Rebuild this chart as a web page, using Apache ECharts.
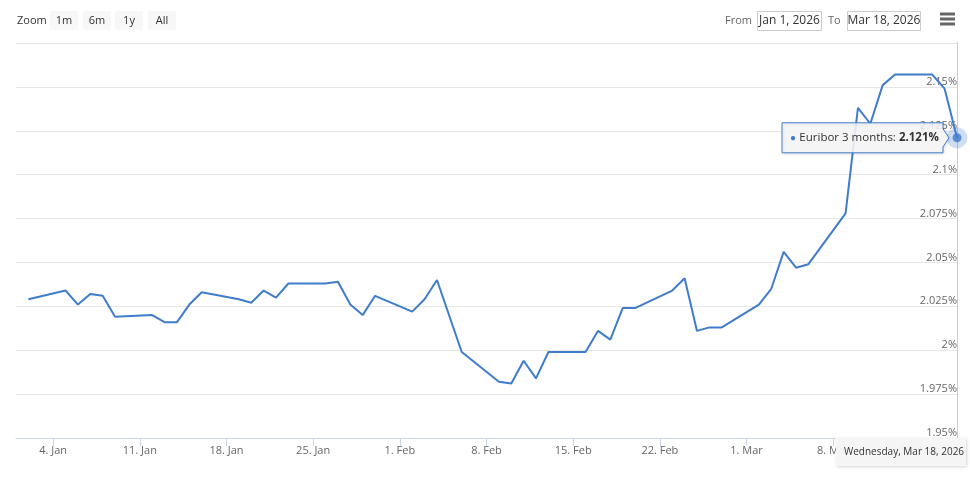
<!DOCTYPE html>
<html>
<head>
<meta charset="utf-8">
<script src="https://cdn.jsdelivr.net/npm/echarts@6/dist/echarts.min.js"></script>
<style>
html,body{margin:0;padding:0;background:#fff;}
#chart{width:970px;height:478px;}
</style>
</head>
<body>
<div id="chart"></div>
<script>
// ---- data ----
const seriesName = 'Euribor 3 months';
const dates = [
  '2026-01-02','2026-01-05','2026-01-06','2026-01-07','2026-01-08','2026-01-09',
  '2026-01-12','2026-01-13','2026-01-14','2026-01-15','2026-01-16',
  '2026-01-19','2026-01-20','2026-01-21','2026-01-22','2026-01-23',
  '2026-01-26','2026-01-27','2026-01-28','2026-01-29','2026-01-30',
  '2026-02-02','2026-02-03','2026-02-04','2026-02-06',
  '2026-02-09','2026-02-10','2026-02-11','2026-02-12','2026-02-13',
  '2026-02-16','2026-02-17','2026-02-18','2026-02-19','2026-02-20',
  '2026-02-23','2026-02-24','2026-02-25','2026-02-26','2026-02-27',
  '2026-03-02','2026-03-03','2026-03-04','2026-03-05','2026-03-06',
  '2026-03-09','2026-03-10','2026-03-11','2026-03-12','2026-03-13',
  '2026-03-16','2026-03-17','2026-03-18'
];
const values = [
  2.029,2.034,2.026,2.032,2.031,2.019,
  2.020,2.016,2.016,2.026,2.033,
  2.029,2.027,2.034,2.030,2.038,
  2.038,2.039,2.026,2.020,2.031,
  2.022,2.029,2.040,1.999,
  1.982,1.981,1.994,1.984,1.999,
  1.999,2.011,2.006,2.024,2.024,
  2.034,2.041,2.011,2.013,2.013,
  2.026,2.035,2.056,2.047,2.049,
  2.078,2.138,2.129,2.151,2.157,
  2.157,2.149,2.121
];
const xTickDates = ['2026-01-04','2026-01-11','2026-01-18','2026-01-25','2026-02-01','2026-02-08','2026-02-15','2026-02-22','2026-03-01','2026-03-08','2026-03-15'];
const rangeButtons = ['1m','6m','1y','All'];
const fromLabel = 'Jan 1, 2026';
const toLabel = 'Mar 18, 2026';
const xMinDate = '2026-01-01';
const xMaxDate = '2026-03-18';
const yMin = 1.95, yMax = 2.175, yStep = 0.025, yLabelMax = 2.15;

// ---- helpers ----
const MONTHS = ['Jan','Feb','Mar','Apr','May','Jun','Jul','Aug','Sep','Oct','Nov','Dec'];
const DAYS = ['Sunday','Monday','Tuesday','Wednesday','Thursday','Friday','Saturday'];
function ts(s){ const p = s.split('-').map(Number); return Date.UTC(p[0], p[1]-1, p[2]); }
function fmtPct(v){ return (+v.toFixed(3)) + '%'; }

const color = '#3f7ccc';
const FONT = '"Open Sans", sans-serif';
const lineData = dates.map((d,i)=>[ts(d), values[i]]);
const last = lineData[lineData.length-1];
const xTicks = xTickDates.map(ts);

const chart = echarts.init(document.getElementById('chart'), null, {renderer:'canvas'});
chart.setOption({
  animation:false,
  textStyle:{fontFamily:FONT},
  grid:{left:16, right:13, top:43, bottom:40, containLabel:false},
  xAxis:{
    type:'value', min:ts(xMinDate), max:ts(xMaxDate), scale:true,
    axisLine:{show:true, lineStyle:{color:'#ccd6eb', width:1}},
    axisTick:{show:true, length:8, lineStyle:{color:'#ccd6eb'}, customValues:xTicks},
    axisLabel:{show:true, customValues:xTicks, color:'#666', fontSize:11, fontFamily:FONT, margin:7,
      formatter:(v)=>{ const d=new Date(v); return d.getUTCDate()+'. '+MONTHS[d.getUTCMonth()]; }},
    splitLine:{show:false}
  },
  yAxis:{
    type:'value', position:'right', min:yMin, max:yMax, interval:yStep,
    axisLine:{show:false}, axisTick:{show:false},
    splitLine:{show:true, lineStyle:{color:'#e6e6e6', width:1}},
    axisLabel:{inside:true, margin:0, color:'#666', fontSize:11, fontFamily:FONT, verticalAlign:'bottom', lineHeight:10,
      formatter:(v)=>{ return v <= yLabelMax + 1e-6 ? fmtPct(v) : ''; }}
  },
  series:[
    {type:'line', name:seriesName, data:lineData, showSymbol:false, symbol:'none',
      lineStyle:{color:color, width:2}, itemStyle:{color:color}, z:3},
    {type:'scatter', name:seriesName, data:[last], symbolSize:21, clip:false,
      itemStyle:{color:color, opacity:0.25}, z:4, silent:true},
    {type:'scatter', name:seriesName, data:[last], symbolSize:9, clip:false,
      itemStyle:{color:color}, z:5, silent:true}
  ]
});

// ---- overlay: range selector, crosshair, tooltip ----
const p = chart.convertToPixel({xAxisIndex:0, yAxisIndex:0}, last);
const plotTop = chart.convertToPixel({yAxisIndex:0}, yMax);
const plotBottom = chart.convertToPixel({yAxisIndex:0}, yMin);
const d = new Date(last[0]);
const headerText = DAYS[d.getUTCDay()]+', '+MONTHS[d.getUTCMonth()]+' '+d.getUTCDate()+', '+d.getUTCFullYear();

const g = [];
g.push({type:'text', x:17, y:20.5, style:{text:'Zoom', fill:'#333', font:'11px '+FONT, verticalAlign:'middle'}});
const btnX = [50, 83, 115, 148];
rangeButtons.forEach((b,i)=>{
  g.push({type:'rect', shape:{x:btnX[i], y:11, width:28, height:19, r:2}, style:{fill:'#f7f7f7'}});
  g.push({type:'text', x:btnX[i]+14, y:20.5, style:{text:b, fill:'#333', font:'11px '+FONT, align:'center', verticalAlign:'middle'}});
});
g.push({type:'text', x:725, y:20.5, style:{text:'From', fill:'#666', font:'11px '+FONT, verticalAlign:'middle'}});
g.push({type:'rect', shape:{x:757.5, y:11.5, width:64, height:19}, style:{fill:'#fff', stroke:'#cccccc', lineWidth:1}});
g.push({type:'text', x:789.5, y:21, style:{text:fromLabel, fill:'#333', font:'12px '+FONT, align:'center', verticalAlign:'middle'}});
g.push({type:'text', x:828, y:20.5, style:{text:'To', fill:'#666', font:'11px '+FONT, verticalAlign:'middle'}});
g.push({type:'rect', shape:{x:847.5, y:11.5, width:73, height:19}, style:{fill:'#fff', stroke:'#cccccc', lineWidth:1}});
g.push({type:'text', x:884, y:21, style:{text:toLabel, fill:'#333', font:'12px '+FONT, align:'center', verticalAlign:'middle'}});
[14,19,24].forEach(y=>g.push({type:'rect', shape:{x:940, y:y-1.5, width:15, height:3}, style:{fill:'#666'}}));

g.push({type:'line', z:1, shape:{x1:Math.round(p[0])+0.5, y1:plotTop-1, x2:Math.round(p[0])+0.5, y2:plotBottom}, style:{stroke:'#cccccc', lineWidth:1}});
const hbRight = Math.min(p[0]+9, 966), hbW = 130;
g.push({type:'rect', z:20, shape:{x:hbRight-hbW, y:plotBottom, width:hbW, height:28},
  style:{fill:'rgba(247,247,247,0.95)', shadowBlur:3, shadowColor:'rgba(0,0,0,0.18)', shadowOffsetX:1, shadowOffsetY:1}});
g.push({type:'text', z:21, x:hbRight-hbW+8, y:plotBottom+14, style:{text:headerText, fill:'#333', font:'10px '+FONT, verticalAlign:'middle'}});

const tr = p[0]-14, tl = tr-161, tt = p[1]-15, tb = p[1]+15, tip = p[0]-8;
g.push({type:'polygon', z:20, shape:{points:[[tl,tt],[tr,tt],[tr,p[1]-9],[tip,p[1]],[tr,p[1]+9],[tr,tb],[tl,tb]]},
  style:{fill:'rgba(247,247,247,0.88)', stroke:color, lineWidth:1, shadowBlur:3, shadowColor:'rgba(0,0,0,0.12)', shadowOffsetX:1, shadowOffsetY:1}});
g.push({type:'text', z:21, x:tl+8, y:p[1], style:{
  text:'{dot|●} {n|'+seriesName+': }{b|'+fmtPct(last[1])+'}',
  verticalAlign:'middle',
  rich:{dot:{fill:color, font:'10px '+FONT}, n:{fill:'#333', font:'11.5px '+FONT}, b:{fill:'#333', font:'bold 11.5px '+FONT}}
}});

chart.setOption({graphic:{elements:g}});
</script>
</body>
</html>
